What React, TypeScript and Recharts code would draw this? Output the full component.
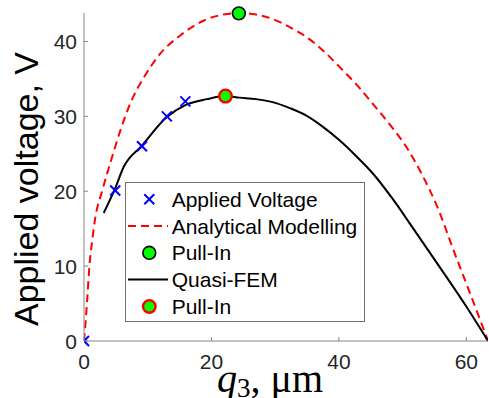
import React from 'react';
import { ComposedChart, Line, Scatter, XAxis, YAxis, Legend } from 'recharts';

// Applied voltage measurements (blue crosses)
const appliedX = [0, 4.9, 9.1, 13.0, 15.9];
const appliedY = [0, 20.1, 26.0, 30.0, 32.0];

// Analytical modelling curve (red dashed)
const analyticalX = [0, 0.2, 0.5, 0.85, 1.3, 1.8, 2.8, 4.1, 5.7, 7.3, 9.4, 12.0, 15.1, 18.8, 21.9, 24.3, 27.0, 29.6, 32.3, 34.9, 37.5, 40.1, 42.7, 45.3, 48.0, 50.6, 53.0, 55.5, 58.0, 60.3, 62.0, 63.4];
const analyticalY = [0, 2.0, 5.5, 10.0, 13.5, 16.6, 19.9, 23.7, 28.1, 31.8, 35.2, 38.4, 40.8, 42.8, 43.6, 43.8, 43.6, 43.0, 41.9, 40.6, 38.8, 36.6, 34.3, 31.7, 28.9, 25.9, 22.3, 17.8, 12.1, 7.0, 3.2, 0.0];

// Quasi-FEM curve (black solid)
const femX = [3.1, 4.9, 6.2, 9.1, 13.0, 15.9, 19.3, 22.2, 24.4, 27.0, 29.6, 32.3, 34.9, 37.5, 40.1, 42.7, 45.3, 48.5, 51.6, 55.8, 60.0, 63.4];
const femY = [17.1, 20.4, 23.2, 26.1, 29.9, 31.5, 32.3, 32.7, 32.5, 32.3, 31.9, 31.1, 30.1, 28.6, 26.8, 24.7, 22.4, 18.9, 15.1, 9.9, 4.6, 0.0];

// Pull-in points
const pullInAnalyticalX = [24.3];
const pullInAnalyticalY = [43.75];
const pullInFemX = [22.2];
const pullInFemY = [32.7];

const xTicks = [0, 20, 40, 60];
const yTicks = [0, 10, 20, 30, 40];

const legendLabels = ['Applied Voltage', 'Analytical Modelling', 'Pull-In', 'Quasi-FEM', 'Pull-In'];

const zip = (xs: number[], ys: number[]) => xs.map((x, i) => ({ x, y: ys[i] }));

const appliedData = zip(appliedX, appliedY);
const analyticalData = zip(analyticalX, analyticalY);
const femData = zip(femX, femY);
const pullInAData = zip(pullInAnalyticalX, pullInAnalyticalY);
const pullInFData = zip(pullInFemX, pullInFemY);

const SANS = "'Liberation Sans', Arial, Helvetica, sans-serif";
const SERIF = "'Liberation Serif', 'Times New Roman', 'DejaVu Serif', serif";
const AXIS = '#858585';
const TEXT = '#262626';

const XTick = (props: any) => {
  const { x, y, payload } = props;
  return (
    <g>
      <line x1={x} y1={y} x2={x} y2={y - 4} stroke={AXIS} strokeWidth={1} />
      <text x={x} y={y + 28} textAnchor="middle" fontFamily={SANS} fontSize={21} fill={TEXT}>
        {payload.value}
      </text>
    </g>
  );
};

const YTick = (props: any) => {
  const { x, y, payload } = props;
  return (
    <g>
      <line x1={x} y1={y} x2={x + 4} y2={y} stroke={AXIS} strokeWidth={1} />
      <text x={x - 7} y={y + 7.5} textAnchor="end" fontFamily={SANS} fontSize={21} fill={TEXT}>
        {payload.value}
      </text>
    </g>
  );
};

const CrossShape = (props: any) => {
  const { cx, cy } = props;
  const s = 5;
  return (
    <g>
      <line x1={cx - s} y1={cy - s} x2={cx + s} y2={cy + s} stroke="#0000ff" strokeWidth={2} />
      <line x1={cx - s} y1={cy + s} x2={cx + s} y2={cy - s} stroke="#0000ff" strokeWidth={2} />
    </g>
  );
};

const BlackCircle = (props: any) => (
  <circle cx={props.cx} cy={props.cy} r={6.4} fill="#00ff00" stroke="#000000" strokeWidth={1.6} />
);
const RedCircle = (props: any) => (
  <circle cx={props.cx} cy={props.cy} r={6.3} fill="#00ff00" stroke="#ff0000" strokeWidth={2.4} />
);

const LegendBox = () => {
  const rowBase = [24.7, 51.5, 78.3, 105.1, 132];
  const mid = rowBase.map((b) => b - 7.5);
  const ix = 24.3;
  return (
    <svg width={240} height={140} style={{ display: 'block' }}>
      <rect x={0.5} y={0.5} width={239} height={139} fill="#ffffff" stroke="#707070" strokeWidth={1} />
      <CrossShape cx={ix} cy={mid[0]} />
      <line x1={3} y1={mid[1]} x2={43} y2={mid[1]} stroke="#ff0000" strokeWidth={2} strokeDasharray="8 5" />
      <BlackCircle cx={ix} cy={mid[2]} />
      <line x1={3} y1={mid[3]} x2={43} y2={mid[3]} stroke="#000000" strokeWidth={2} />
      <RedCircle cx={ix} cy={mid[4]} />
      {legendLabels.map((l, i) => (
        <text key={i} x={46.7} y={rowBase[i]} fontFamily={SANS} fontSize={21} fill="#000000">
          {l}
        </text>
      ))}
    </svg>
  );
};

const YLabel = () => (
  <text
    x={38}
    y={189}
    transform="rotate(-90 38 189)"
    textAnchor="middle"
    fontFamily={SANS}
    fontSize={34}
    fill="#000000"
  >
    Applied voltage, V
  </text>
);

const XLabel = () => (
  <text x={217} y={392} fontFamily={SERIF} fontSize={40} fill="#000000">
    <tspan fontStyle="italic">q</tspan>
    <tspan fontSize={27} dy={5}>3</tspan>
    <tspan dy={-5}>, μm</tspan>
  </text>
);

export default function App() {
  return (
    <div style={{ position: 'absolute', left: 0, top: 0, width: 489, height: 398, background: '#fff' }}>
      <ComposedChart width={489} height={398} margin={{ top: 13, right: 1, left: 0, bottom: 0 }}>
        <XAxis
          type="number"
          dataKey="x"
          domain={[0, 63.4]}
          ticks={xTicks}
          interval={0}
          height={57}
          tickSize={0}
          tickMargin={0}
          tickLine={false}
          axisLine={{ stroke: AXIS, strokeWidth: 1 }}
          tick={<XTick />}
          label={<XLabel />}
          allowDataOverflow
        />
        <YAxis
          type="number"
          dataKey="y"
          domain={[0, 43.8]}
          ticks={yTicks}
          interval={0}
          width={84}
          tickSize={0}
          tickMargin={0}
          tickLine={false}
          axisLine={{ stroke: AXIS, strokeWidth: 1 }}
          tick={<YTick />}
          label={<YLabel />}
        />
        <Line
          data={analyticalData}
          dataKey="y"
          type="monotone"
          stroke="#ff0000"
          strokeWidth={2}
          strokeDasharray="8 5"
          dot={false}
          activeDot={false}
          isAnimationActive={false}
        />
        <Line
          data={femData}
          dataKey="y"
          type="monotone"
          stroke="#000000"
          strokeWidth={2}
          dot={false}
          activeDot={false}
          isAnimationActive={false}
        />
        <Scatter data={appliedData} dataKey="y" shape={<CrossShape />} isAnimationActive={false} />
        <Scatter data={pullInAData} dataKey="y" shape={<BlackCircle />} isAnimationActive={false} />
        <Scatter data={pullInFData} dataKey="y" shape={<RedCircle />} isAnimationActive={false} />
        <Legend
          layout="vertical"
          verticalAlign="middle"
          align="center"
          wrapperStyle={{ left: 125, top: 182, width: 240, height: 140 }}
          content={() => <LegendBox />}
        />
      </ComposedChart>
    </div>
  );
}
